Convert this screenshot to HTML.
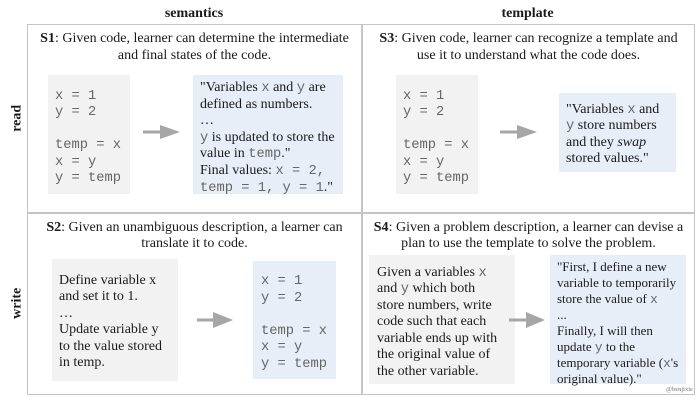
<!DOCTYPE html>
<html><head><meta charset="utf-8">
<style>
html,body{margin:0;padding:0;background:#fff}
#p{position:relative;width:700px;height:400px;overflow:hidden;background:#fff;font-family:"Liberation Serif",serif;font-size:14px;line-height:16.6px;color:#1a1a1a;filter:blur(0.25px)}
#p div{position:absolute}
.t{white-space:pre}
.c{text-align:center;white-space:pre}
.m,code{font-family:"Liberation Mono",monospace;font-size:13.75px;color:#666;line-height:0}
.m{line-height:16.6px}
.g{background:#f2f2f2}.b{background:#e8eef8}
.l{background:#c4c4c4}
.h{font-weight:bold;text-align:center}
.v{font-weight:bold;transform:rotate(-90deg);text-align:center;width:60px}
svg{position:absolute;left:0;top:0}
.s{font-size:13px;line-height:16px}
.s code{font-size:12.75px}
</style></head><body><div id="p">
<div class="h" style="left:27px;width:334px;top:6px">semantics</div>
<div class="h" style="left:361px;width:333px;top:6px">template</div>
<div class="v" style="left:-12px;top:110px">read</div>
<div class="v" style="left:-12px;top:295px">write</div>

<div class="l" style="left:27px;top:24px;width:668px;height:1px"></div>
<div class="l" style="left:27px;top:212px;width:668px;height:2px"></div>
<div class="l" style="left:27px;top:394px;width:668px;height:1px"></div>
<div class="l" style="left:27px;top:24px;width:1px;height:371px"></div>
<div class="l" style="left:361px;top:24px;width:2px;height:371px"></div>
<div class="l" style="left:694px;top:24px;width:1px;height:371px"></div>

<div class="c" style="left:28px;width:333px;top:31px"><b>S1</b>: Given code, learner can determine the intermediate
and final states of the code.</div>
<div class="c" style="left:363px;width:331px;top:31px"><b>S3</b>: Given code, learner can recognize a template and
use it to understand what the code does.</div>
<div class="c" style="left:28px;width:333px;top:219.5px"><b>S2</b>: Given an unambiguous description, a learner can
translate it to code.</div>
<div class="c" style="left:363px;width:331px;top:219.5px"><b>S4</b>: Given a problem description, a learner can devise a
plan to use the template to solve the problem.</div>

<div class="g" style="left:48px;top:75px;width:82px;height:119px"></div>
<div class="m t" style="left:55px;top:88.5px">x = 1
y = 2

temp = x
x = y
y = temp</div>
<div class="b" style="left:193px;top:75px;width:150px;height:119px"></div>
<div class="t" style="left:200px;top:80px">"Variables <code>x</code> and <code>y</code> are
defined as numbers.
…
<code>y</code> is updated to store the
value in <code>temp</code>."
Final values: <code>x = 2,</code>
<code>temp = 1, y = 1</code>."</div>

<div class="g" style="left:396px;top:75px;width:82px;height:119px"></div>
<div class="m t" style="left:403px;top:88.5px">x = 1
y = 2

temp = x
x = y
y = temp</div>
<div class="b" style="left:559px;top:93px;width:117px;height:79px"></div>
<div class="t" style="left:566px;top:101.5px">"Variables <code>x</code> and
<code>y</code> store numbers
and they <i>swap</i>
stored values."</div>

<div class="g" style="left:52px;top:259px;width:126px;height:122px"></div>
<div class="t" style="left:59px;top:272.5px">Define variable x
and set it to 1.
…
Update variable y
to the value stored
in temp.</div>
<div class="b" style="left:253px;top:261px;width:83px;height:118px"></div>
<div class="m t" style="left:261px;top:274px">x = 1
y = 2

temp = x
x = y
y = temp</div>

<div class="g" style="left:369px;top:255px;width:146px;height:129px"></div>
<div class="t" style="left:377px;top:264.5px">Given a variables <code>x</code>
and <code>y</code> which both
store numbers, write
code such that each
variable ends up with
the original value of
the other variable.</div>
<div class="b" style="left:550px;top:255px;width:136px;height:129px"></div>
<div class="t s" style="left:557px;top:258.5px">"First, I define a new
variable to temporarily
store the value of <code>x</code>
...
Finally, I will then
update <code>y</code> to the
temporary variable (<code>x</code>'s
original value)."</div>
<div style="left:666px;top:386px;font-size:6.5px;line-height:8px;color:#777;white-space:pre">@benjixie</div>

<svg width="700" height="400">
<g fill="#a6a6a6">
<path d="M143 130.5h18v3h-18z M160 125l20 7-20 7z"/>
<path d="M500 130.5h18v3h-18z M517 125l20 7-20 7z"/>
<path d="M197 318.5h17v3h-17z M213 312l20 8-20 8z"/>
<path d="M509 318.5h18v3h-18z M526 312l19 8-19 8z"/>
</g></svg>
</div></body></html>
